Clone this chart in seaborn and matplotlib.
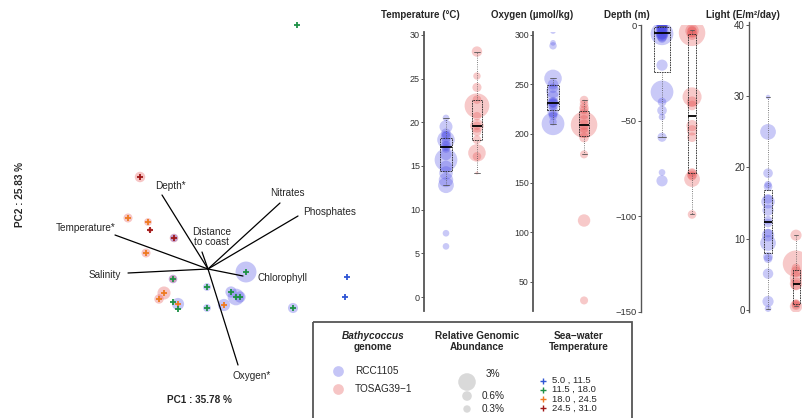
import numpy as np
import pandas as pd
import seaborn as sns
import matplotlib.pyplot as plt
from matplotlib.patches import Rectangle

sns.set_style("white")
plt.rcParams['font.family'] = ['Liberation Sans', 'DejaVu Sans']

W, H = 802, 418

genomes = ['RCC1105', 'TOSAG39-1']
genome_colors = {'RCC1105': '#4d4de6', 'TOSAG39-1': '#e64d4d'}
temp_classes = ['5.0 , 11.5', '11.5 , 18.0', '18.0 , 24.5', '24.5 , 31.0']
temp_colors = ['#2f55d4', '#1e9146', '#ee7a22', '#a01818']

# ---- PCA: sample scores (PC1, PC2) and their sea-water temperature class ----
sample_pc1 = [-1.36, -1.60, -1.20, -1.16, -0.68, -1.24, -0.70, -0.88, -0.98, -0.70, -0.60, -0.60,
              -0.02, -0.02, 0.76, 0.46, 0.56, 0.64, 0.32, 1.70, 2.78, 2.74, 1.78]
sample_pc2 = [1.84, 1.02, 0.94, 0.78, 0.62, 0.32, -0.20, -0.48, -0.60, -0.66, -0.70, -0.80,
              -0.36, -0.78, -0.06, -0.46, -0.56, -0.56, -0.72, -0.78, -0.16, -0.56, 4.88]
sample_temp = [3, 2, 2, 3, 3, 2, 1, 2, 2, 1, 2, 1, 1, 1, 1, 1, 1, 1, 2, 1, 0, 0, 1]

# genome abundance circles on samples
circle_sample = [0, 1, 2, 3, 4, 4, 5, 6, 6, 7, 8, 10, 12, 13, 14, 15, 16, 17, 18, 19]
circle_genome = ['TOSAG39-1'] * 5 + ['RCC1105', 'TOSAG39-1', 'RCC1105', 'TOSAG39-1', 'TOSAG39-1',
                 'TOSAG39-1'] + ['RCC1105'] * 9
circle_abund = [0.67, 0.45, 0.3, 0.1, 0.4, 0.3, 0.45, 0.4, 0.3, 1.2, 0.5, 1.0, 0.3, 0.3, 4.2,
                0.8, 2.3, 0.8, 1.0, 0.6]

# environmental loadings
var_names = ['Depth*', 'Temperature*', 'Salinity', 'Nitrates', 'Phosphates',
             'Distance\nto coast', 'Chlorophyll', 'Oxygen*']
load_pc1 = [-0.92, -1.86, -1.60, 1.44, 1.80, -0.12, 0.70, 0.60]
load_pc2 = [1.48, 0.68, -0.08, 1.32, 1.06, 0.34, -0.14, -1.92]
label_offsets = [(0.16, 0.18, 'center'), (0.0, 0.14, 'right'), (-0.14, -0.04, 'right'),
                 (0.14, 0.20, 'center'), (0.10, 0.08, 'left'), (0.20, 0.30, 'center'),
                 (0.30, -0.04, 'left'), (0.28, -0.22, 'center')]

# ---- environmental parameters per genome (value, relative abundance %) ----
temp_rcc = [20.5, 19.5, 18.75, 18.5, 18.3, 18.0, 17.8, 17.3, 17.3, 17.0, 16.3, 15.7, 14.9, 14.2,
            13.4, 12.8, 7.3, 5.8]
temp_rcc_ab = [0.15, 0.9, 0.4, 0.3, 0.5, 2.0, 0.3, 0.5, 0.3, 0.3, 0.6, 4.0, 0.8, 1.0, 1.2, 1.5,
               0.15, 0.15]
temp_tos = [28.1, 25.3, 24.0, 22.6, 21.9, 20.7, 19.6, 19.6, 18.9, 18.0, 16.5, 16.1, 14.2]
temp_tos_ab = [0.5, 0.2, 0.35, 0.3, 5.0, 0.3, 1.0, 0.3, 0.3, 0.3, 2.0, 0.3, 0.02]

oxy_rcc = [304, 292, 289, 256, 250, 246, 243, 238, 232, 231, 231, 230, 228, 222, 220, 218, 212, 210]
oxy_rcc_ab = [0.1, 0.1, 0.2, 2.0, 0.5, 0.4, 1.0, 0.6, 0.5, 0.3, 0.4, 0.8, 0.3, 0.6, 0.3, 0.3,
              0.2, 4.0]
oxy_tos = [234, 230, 226, 224, 220, 214, 209, 209, 205, 201, 196, 179, 112, 31]
oxy_tos_ab = [0.3, 0.3, 0.4, 0.3, 0.5, 0.4, 6.0, 0.5, 0.3, 0.5, 0.4, 0.25, 0.8, 0.25]

depth_rcc = [-81.4, -77, -58.6, -48, -44.6, -40.2, -34.9, -20.9, -7, -6, -5, -5, -4.5, -4.5,
             -4, -4, -3, -2, -1.5, -1, -1, -0.8, -0.7, -0.6, -0.5, -0.5, -0.3, -0.2]
depth_rcc_ab = [0.6, 0.15, 0.35, 0.15, 0.4, 0.3, 4.0, 0.6, 0.3, 0.5, 0.8, 0.4, 4.0, 0.6,
                1.0, 0.5, 0.3, 0.6, 0.4, 0.8, 0.3, 0.5, 0.3, 0.6, 0.4, 0.3, 0.5, 0.3]
depth_tos = [-99, -80.5, -79, -78, -77, -58.6, -55, -52.5, -42, -40, -37.5, -5, -4, -3.5, -3, -2.5]
depth_tos_ab = [0.3, 1.5, 0.3, 0.5, 0.3, 0.4, 0.5, 0.6, 0.4, 0.5, 2.5, 0.5, 6.0, 0.5, 1.0, 0.3]

light_rcc = [0.2, 1.2, 5.1, 7.2, 7.5, 9.4, 10.5, 10.8, 12.2, 12.6, 14.0, 15.2, 15.6, 17.3, 17.6,
             19.2, 25.0, 29.9]
light_rcc_ab = [0.15, 0.6, 0.5, 0.3, 0.4, 1.5, 0.8, 0.3, 0.3, 0.3, 0.6, 1.0, 0.4, 0.3, 0.2, 0.4,
                1.5, 0.05]
light_tos = [0.5, 0.6, 0.8, 1.0, 3.5, 3.7, 4.5, 5.4, 5.9, 6.5, 10.5]
light_tos_ab = [0.8, 0.3, 0.3, 0.2, 0.5, 0.8, 0.8, 0.5, 0.3, 6.0, 0.6]

legend_abund = [3, 0.6, 0.3]
legend_abund_labels = ['3%', '0.6%', '0.3%']


def abund_size(a):
    return 160 * (np.asarray(a, dtype=float) / 3.0) ** 0.75


def px_rect(left, top, right, bottom):
    return [left / W, 1 - bottom / H, (right - left) / W, (bottom - top) / H]


fig = plt.figure(figsize=(W / 100, H / 100), dpi=100)

# ---------------- PCA biplot ----------------
ax = fig.add_axes(px_rect(0, 0, 370, 418))
ax.set_xlim(-4.16, 3.24)
ax.set_ylim(-2.98, 5.38)
ax.axis('off')

cx = [sample_pc1[i] for i in circle_sample]
cy = [sample_pc2[i] for i in circle_sample]
ax.scatter(cx, cy, s=abund_size(circle_abund) * 1.1,
           c=[genome_colors[g] for g in circle_genome], alpha=0.32, linewidths=0, zorder=1)
for x, y, name, (dx, dy, ha) in zip(load_pc1, load_pc2, var_names, label_offsets):
    ax.plot([0, x], [0, y], color='black', lw=0.9, zorder=2)
    ax.text(x + dx, y + dy, name, ha=ha, va='center', fontsize=7.2, linespacing=0.9, zorder=4)
ax.scatter(sample_pc1, sample_pc2, marker='+', s=24, linewidths=1.3,
           c=[temp_colors[t] for t in sample_temp], zorder=3)
ax.text(199 / 370, 1 - 400 / 418, 'PC1 : 35.78 %', transform=ax.transAxes, ha='center',
        va='center', fontsize=7.2, fontweight='bold')
ax.text(20 / 370, 1 - 195 / 418, 'PC2 : 25.83 %', transform=ax.transAxes, ha='center',
        va='center', fontsize=7.2, fontweight='bold', rotation=90)

# ---------------- environmental panels ----------------
panels = [
    dict(title='Temperature (°C)', tx=420, rect=(424, 32, 520, 311), ylim=(-1.6, 30.34),
         xlim=(-0.71, 2.39), ticks=[0, 5, 10, 15, 20, 25, 30], fs=6.5, widths=(0.36, 0.33),
         lw=1.3, data={'RCC1105': (temp_rcc, temp_rcc_ab), 'TOSAG39-1': (temp_tos, temp_tos_ab)}),
    dict(title='Oxygen (µmol/kg)', tx=532, rect=(533, 32, 630, 311), ylim=(20.3, 303),
         xlim=(-0.645, 2.48), ticks=[50, 100, 150, 200, 250, 300], fs=6.3, widths=(0.36, 0.33),
         lw=1.3, data={'RCC1105': (oxy_rcc, oxy_rcc_ab), 'TOSAG39-1': (oxy_tos, oxy_tos_ab)}),
    dict(title='Depth (m)', tx=627, rect=(641, 25, 735, 312), ylim=(-150, 0.1),
         xlim=(-0.7, 2.43), ticks=[0, -50, -100, -150], fs=6.8, widths=(0.53, 0.27),
         lw=1.0, data={'RCC1105': (depth_rcc, depth_rcc_ab), 'TOSAG39-1': (depth_tos, depth_tos_ab)}),
    dict(title='Light (E/m²/day)', tx=743, rect=(749, 22, 845, 312), ylim=(-0.28, 40.42),
         xlim=(-0.68, 2.75), ticks=[0, 10, 20, 30, 40], fs=7.0, widths=(0.3, 0.25),
         lw=1.0, data={'RCC1105': (light_rcc, light_rcc_ab), 'TOSAG39-1': (light_tos, light_tos_ab)}),
]

for p in panels:
    ax = fig.add_axes(px_rect(*p['rect']))
    for gi, g in enumerate(genomes):
        vals, ab = p['data'][g]
        ax.scatter(np.full(len(vals), gi), vals, s=abund_size(ab) * 1.35, color=genome_colors[g],
                   alpha=0.3, linewidths=0, zorder=1)
        df = pd.DataFrame({'genome': g, 'value': vals})
        sns.boxplot(data=df, x='genome', y='value', order=genomes, width=p['widths'][gi],
                    fill=False, color='black', linewidth=0.6, showfliers=False, whis=1.5,
                    boxprops=dict(linestyle=(0, (2, 1)), color='#222222'),
                    whiskerprops=dict(linestyle=':', color='#555555'),
                    capprops=dict(color='#555555'),
                    medianprops=dict(linestyle='-', linewidth=1.3, color='black'), ax=ax)
    ax.set_xlim(*p['xlim'])
    ax.set_ylim(*p['ylim'])
    ax.set_xticks([])
    ax.set_yticks(p['ticks'])
    ax.set_xlabel('')
    ax.set_ylabel('')
    sns.despine(ax=ax, bottom=True)
    ax.spines['left'].set_color('#555555')
    ax.spines['left'].set_linewidth(p['lw'])
    ax.tick_params(axis='y', length=2, width=0.7, color='#555555', labelsize=p['fs'],
                   labelcolor='#333333', pad=1, left=True)
    ax.patch.set_alpha(0)
    fig.text(p['tx'] / W, 1 - 15 / H, p['title'], ha='center', va='center', fontsize=7.0,
             fontweight='bold')

# ---------------- legend box ----------------
lg = fig.add_axes(px_rect(313, 322, 632, 418))
lg.set_xlim(0, 319)
lg.set_ylim(96, 0)
lg.axis('off')
lg.add_patch(Rectangle((0, 0), 319, 100, fill=False, edgecolor='#555555', lw=1.3, clip_on=False))
fs = 7.2
lg.text(60, 14, 'Bathycoccus', ha='center', va='center', fontsize=fs, fontweight='bold',
        style='italic')
lg.text(60, 25, 'genome', ha='center', va='center', fontsize=fs, fontweight='bold')
for g, y, lab in zip(genomes, [49, 67], ['RCC1105', 'TOSAG39−1']):
    lg.scatter([25], [y], s=60, color=genome_colors[g], alpha=0.32, linewidths=0)
    lg.text(42, y, lab, ha='left', va='center', fontsize=fs)
lg.text(164, 14, 'Relative Genomic', ha='center', va='center', fontsize=fs, fontweight='bold')
lg.text(164, 25, 'Abundance', ha='center', va='center', fontsize=fs, fontweight='bold')
lg.scatter([154] * 3, [60, 74, 87], s=abund_size(legend_abund), color='#d9d9d9', linewidths=0)
for y, lab in zip([52, 74, 87], legend_abund_labels):
    lg.text(180, y, lab, ha='center', va='center', fontsize=fs)
lg.text(266, 14, 'Sea−water', ha='center', va='center', fontsize=fs, fontweight='bold')
lg.text(266, 25, 'Temperature', ha='center', va='center', fontsize=fs, fontweight='bold')
for i, (lab, c) in enumerate(zip(temp_classes, temp_colors)):
    y = 58.5 + 9.2 * i
    lg.scatter([230], [y], marker='+', s=16, linewidths=1.0, color=c)
    lg.text(239, y, lab, ha='left', va='center', fontsize=6.8)

fig.savefig('out.png', dpi=100)
